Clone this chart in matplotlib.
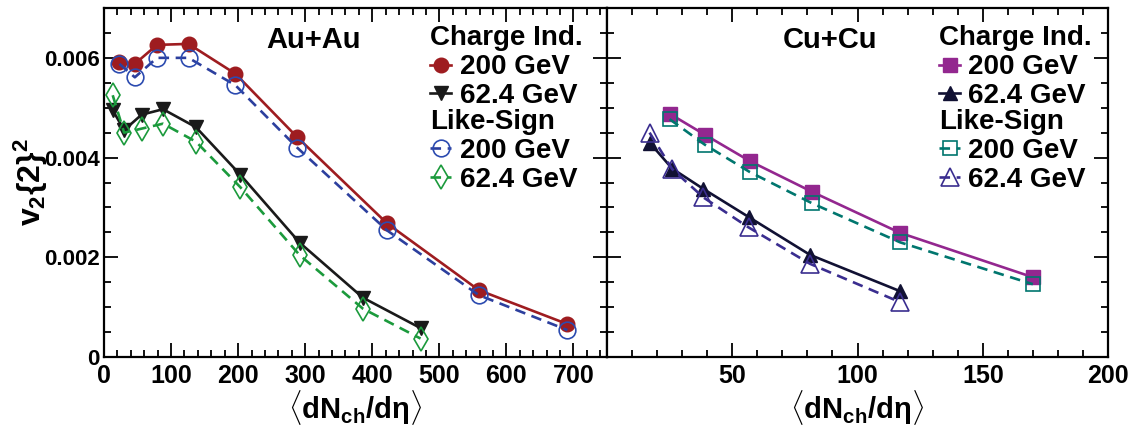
import matplotlib
matplotlib.use("Agg")
import matplotlib.pyplot as plt
from matplotlib.ticker import MultipleLocator

plt.rcParams['font.family'] = ['Liberation Sans', 'DejaVu Sans']
plt.rcParams['font.weight'] = 'bold'
plt.rcParams['mathtext.fontset'] = 'custom'
plt.rcParams['mathtext.rm'] = 'Liberation Sans:bold'
plt.rcParams['mathtext.it'] = 'Liberation Sans:bold'
plt.rcParams['mathtext.bf'] = 'Liberation Sans:bold'

# Au+Au data
au_ci200_x = [23, 46, 79, 126, 196, 288, 422, 559, 691]
au_ci200_y = [0.00591, 0.00588, 0.00626, 0.00628, 0.00568, 0.00441, 0.00268, 0.00134, 0.00066]
au_ls200_y = [0.00588, 0.00561, 0.00600, 0.00600, 0.00545, 0.00420, 0.00254, 0.00124, 0.00054]
au_ci62_x = [13, 30, 56, 88, 137, 203, 292, 386, 472]
au_ci62_y = [0.00495, 0.00455, 0.00486, 0.00497, 0.00461, 0.00366, 0.00229, 0.00119, 0.00058]
au_ls62_y = [0.00525, 0.00450, 0.00458, 0.00468, 0.00432, 0.00341, 0.00204, 0.00097, 0.00037]

# Cu+Cu data
cu_ci200_x = [25, 39, 57, 82, 117, 170]
cu_ci200_y = [0.00488, 0.00446, 0.00393, 0.00331, 0.00249, 0.00160]
cu_ls200_y = [0.00477, 0.00426, 0.00371, 0.00308, 0.00230, 0.00146]
cu_ci62_x = [17, 26, 38.5, 56.5, 81, 117]
cu_ci62_y = [0.00430, 0.00378, 0.00337, 0.00281, 0.00205, 0.00132]
cu_ls62_y = [0.00450, 0.00377, 0.00320, 0.00260, 0.00187, 0.00110]

fig = plt.figure(figsize=(11.38, 4.26), dpi=100)
ax1 = fig.add_axes([104 / 1138, 1 - 357 / 426, 503 / 1138, 349 / 426])
ax2 = fig.add_axes([607 / 1138, 1 - 357 / 426, 501 / 1138, 349 / 426])

lw = 1.9
ms = 10.5
dash = (4, 2.5)

# Au+Au
ax1.plot(au_ci200_x, au_ci200_y, '-', color='#9e1c20', lw=lw, marker='o', ms=ms,
         mfc='#9e1c20', mec='#9e1c20', label='200 GeV')
ax1.plot(au_ci62_x, au_ci62_y, '-', color='#1a1a1a', lw=lw, marker='v', ms=ms,
         mfc='#1a1a1a', mec='#1a1a1a', label='62.4 GeV')
ax1.plot(au_ci200_x, au_ls200_y, '--', color='#2c3f9e', lw=lw, marker='o', ms=ms + 1.5,
         mfc='none', mec='#2c4bb0', mew=1.2, dashes=dash, label='200 GeV')
ax1.plot(au_ci62_x, au_ls62_y, '--', color='#1b9a3c', lw=lw, marker='d', ms=ms + 2,
         mfc='none', mec='#1b9a3c', mew=1.2, dashes=dash, label='62.4 GeV')

# Cu+Cu
ax2.plot(cu_ci200_x, cu_ci200_y, '-', color='#93278f', lw=lw, marker='s', ms=ms - 1,
         mfc='#93278f', mec='#93278f', label='200 GeV')
ax2.plot(cu_ci62_x, cu_ci62_y, '-', color='#111133', lw=lw, marker='^', ms=ms,
         mfc='#111133', mec='#111133', label='62.4 GeV')
ax2.plot(cu_ci200_x, cu_ls200_y, '--', color='#00766e', lw=lw, marker='s', ms=ms,
         mfc='none', mec='#00766e', mew=1.2, dashes=dash, label='200 GeV')
ax2.plot(cu_ci62_x, cu_ls62_y, '--', color='#3a2d8f', lw=lw, marker='^', ms=ms + 2,
         mfc='none', mec='#3a2d8f', mew=1.2, dashes=dash, label='62.4 GeV')

for ax in (ax1, ax2):
    ax.set_ylim(0, 0.007)
    ax.yaxis.set_major_locator(MultipleLocator(0.002))
    ax.yaxis.set_minor_locator(MultipleLocator(0.0005))
    ax.tick_params(which='both', direction='in', top=True, right=True, width=1.3)
    ax.tick_params(which='major', length=10)
    ax.tick_params(which='minor', length=5)
    ax.tick_params(axis='x', labelsize=18, pad=5)
    ax.tick_params(axis='y', labelsize=16, pad=3)
    for s in ax.spines.values():
        s.set_linewidth(1.6)
    ax.set_xlabel(r'$\langle\mathrm{dN}_{\mathrm{ch}}/\mathrm{d}\eta\rangle$', fontsize=21, labelpad=0)

ax1.set_xlim(0, 750)
ax1.xaxis.set_major_locator(MultipleLocator(100))
ax1.xaxis.set_minor_locator(MultipleLocator(20))
ax1.set_yticks([0, 0.002, 0.004, 0.006])
ax1.set_yticklabels(['0', '0.002', '0.004', '0.006'])
ax1.set_ylabel(r'$v_2\{2\}^2$', fontsize=23, labelpad=-4)

ax2.set_xlim(0, 200)
ax2.xaxis.set_major_locator(MultipleLocator(50))
ax2.xaxis.set_minor_locator(MultipleLocator(10))
ax2.set_xticks([50, 100, 150, 200])
ax2.tick_params(axis='y', labelleft=False)

ax1.text(0.3235, 0.885, 'Au+Au', transform=ax1.transAxes, fontsize=21, va='baseline')
ax2.text(0.35, 0.885, 'Cu+Cu', transform=ax2.transAxes, fontsize=21, va='baseline')

leg_kw = dict(loc='upper left', frameon=False, fontsize=20, title_fontsize=20,
              alignment='left', borderpad=0, borderaxespad=0, handlelength=0.75,
              handletextpad=0.3, labelspacing=0.1)
for ax, x0 in ((ax1, 0.649), (ax2, 0.663)):
    h, l = ax.get_legend_handles_labels()
    lg1 = ax.legend(h[:2], l[:2], title='Charge Ind.', bbox_to_anchor=(x0, 0.95), **leg_kw)
    ax.add_artist(lg1)
    ax.legend(h[2:], l[2:], title='Like-Sign', bbox_to_anchor=(x0, 0.71), **leg_kw)

fig.savefig('out.png', dpi=100)
